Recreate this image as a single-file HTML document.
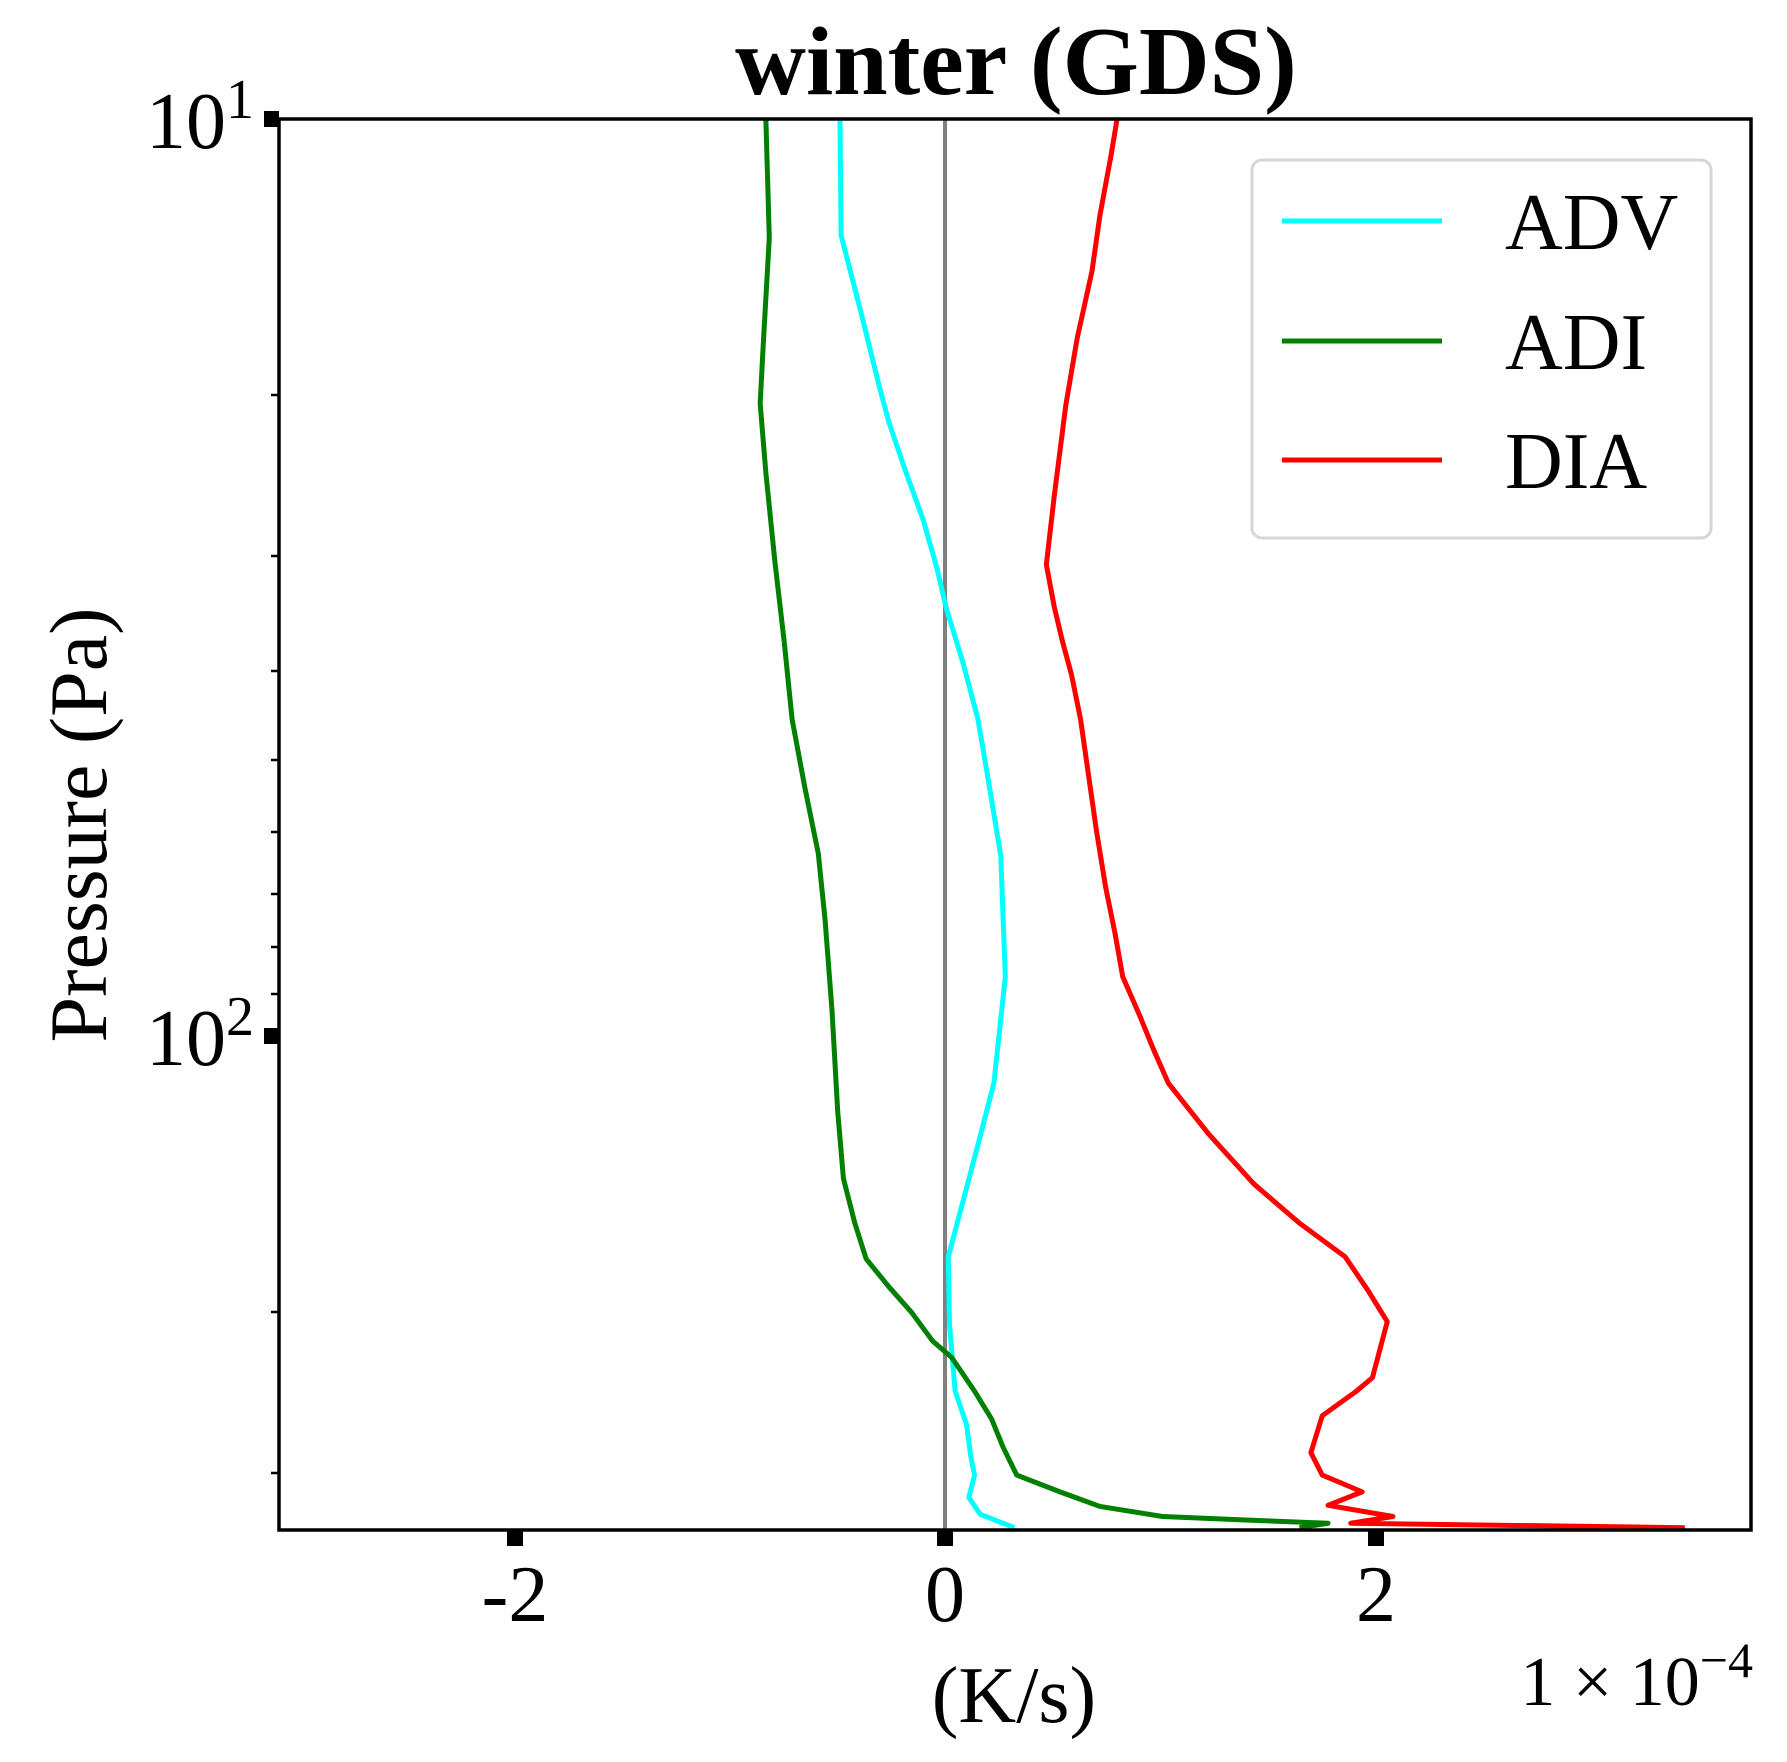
<!DOCTYPE html>
<html><head><meta charset="utf-8"><style>html,body{margin:0;padding:0;background:#fff}</style></head>
<body>
<svg width="1787" height="1757" viewBox="0 0 1787 1757" xmlns="http://www.w3.org/2000/svg" font-family="'Liberation Serif', serif">
<rect width="1787" height="1757" fill="#fff"/>
<line x1="945" y1="119" x2="945" y2="1530" stroke="#808080" stroke-width="4"/>
<g transform="translate(279,119) scale(1.1402,1.1198) translate(-245,-104)" fill="none" stroke-linejoin="round">
<polyline stroke="#00ffff" stroke-width="5" vector-effect="non-scaling-stroke" points="737,104 738,208 755,275 772,345 780,375 795,420 810,462 822,505 830,540 845,590 858,640 868,700 878,762 882,870 872,965 858,1020 845,1070 832,1120 833,1180 838,1240 848,1270 852,1300 855,1315 850,1335 860,1350 890,1362"/>
<polyline stroke="#008000" stroke-width="5" vector-effect="non-scaling-stroke" points="672,104 675,210 670,300 667,358 672,420 680,500 688,570 695,640 706,700 718,760 724,820 730,900 735,990 740,1050 750,1090 760,1122 780,1147 800,1170 818,1195 835,1210 855,1240 870,1265 880,1290 892,1315 930,1330 965,1343 1020,1352 1090,1355 1165,1358 1140,1362"/>
<polyline stroke="#ff0000" stroke-width="5" vector-effect="non-scaling-stroke" points="980,104 975,135 965,190 958,240 945,300 935,360 930,400 925,440 918,502 925,540 932,570 940,600 948,640 955,690 962,740 970,790 978,830 985,870 1000,905 1012,935 1025,965 1060,1010 1100,1055 1140,1090 1180,1120 1200,1150 1217,1178 1204,1228 1190,1240 1160,1262 1150,1295 1160,1315 1195,1330 1165,1342 1222,1352 1185,1358 1478,1362"/>
</g>
<rect x="279" y="119" width="1472" height="1411" fill="none" stroke="#000" stroke-width="3.5"/>
<rect x="264" y="111" width="15" height="16" fill="#000"/>
<rect x="264" y="1028" width="15" height="16" fill="#000"/>
<g stroke="#000" stroke-width="2.5">
<line x1="271" x2="279" y1="395" y2="395"/>
<line x1="271" x2="279" y1="556" y2="556"/>
<line x1="271" x2="279" y1="671" y2="671"/>
<line x1="271" x2="279" y1="760" y2="760"/>
<line x1="271" x2="279" y1="832" y2="832"/>
<line x1="271" x2="279" y1="894" y2="894"/>
<line x1="271" x2="279" y1="947" y2="947"/>
<line x1="271" x2="279" y1="994" y2="994"/>
<line x1="271" x2="279" y1="1312" y2="1312"/>
<line x1="271" x2="279" y1="1473" y2="1473"/>
</g>
<rect x="507" y="1530" width="16" height="16" fill="#000"/>
<rect x="937" y="1530" width="16" height="16" fill="#000"/>
<rect x="1368" y="1530" width="16" height="16" fill="#000"/>
<g font-size="80" fill="#000">
<text x="146" y="148">10<tspan font-size="56" dy="-30">1</tspan></text>
<text x="146" y="1065">10<tspan font-size="56" dy="-30">2</tspan></text>
<text x="515" y="1621" text-anchor="middle">-2</text>
<text x="945" y="1621" text-anchor="middle">0</text>
<text x="1376" y="1621" text-anchor="middle">2</text>
<text x="1014" y="1722" text-anchor="middle">(K/s)</text>
<text x="1753" y="1705" text-anchor="end" font-size="70">1 × 10<tspan font-size="50" dy="-28">−4</tspan></text>
<text transform="translate(106,825) rotate(-90)" text-anchor="middle" font-size="82">Pressure (Pa)</text>
</g>
<text x="1016" y="94" text-anchor="middle" font-size="98" font-weight="bold">winter (GDS)</text>
<rect x="1252" y="160" width="459" height="378" rx="10" fill="#fff" fill-opacity="0.8" stroke="#d6d6d6" stroke-width="3"/>
<g stroke-width="5">
<line x1="1282" x2="1442" y1="221" y2="221" stroke="#00ffff"/>
<line x1="1282" x2="1442" y1="341" y2="341" stroke="#008000"/>
<line x1="1282" x2="1442" y1="460" y2="460" stroke="#ff0000"/>
</g>
<g font-size="80" fill="#000">
<text x="1505" y="249">ADV</text>
<text x="1505" y="369">ADI</text>
<text x="1505" y="488">DIA</text>
</g>
</svg>
</body></html>
